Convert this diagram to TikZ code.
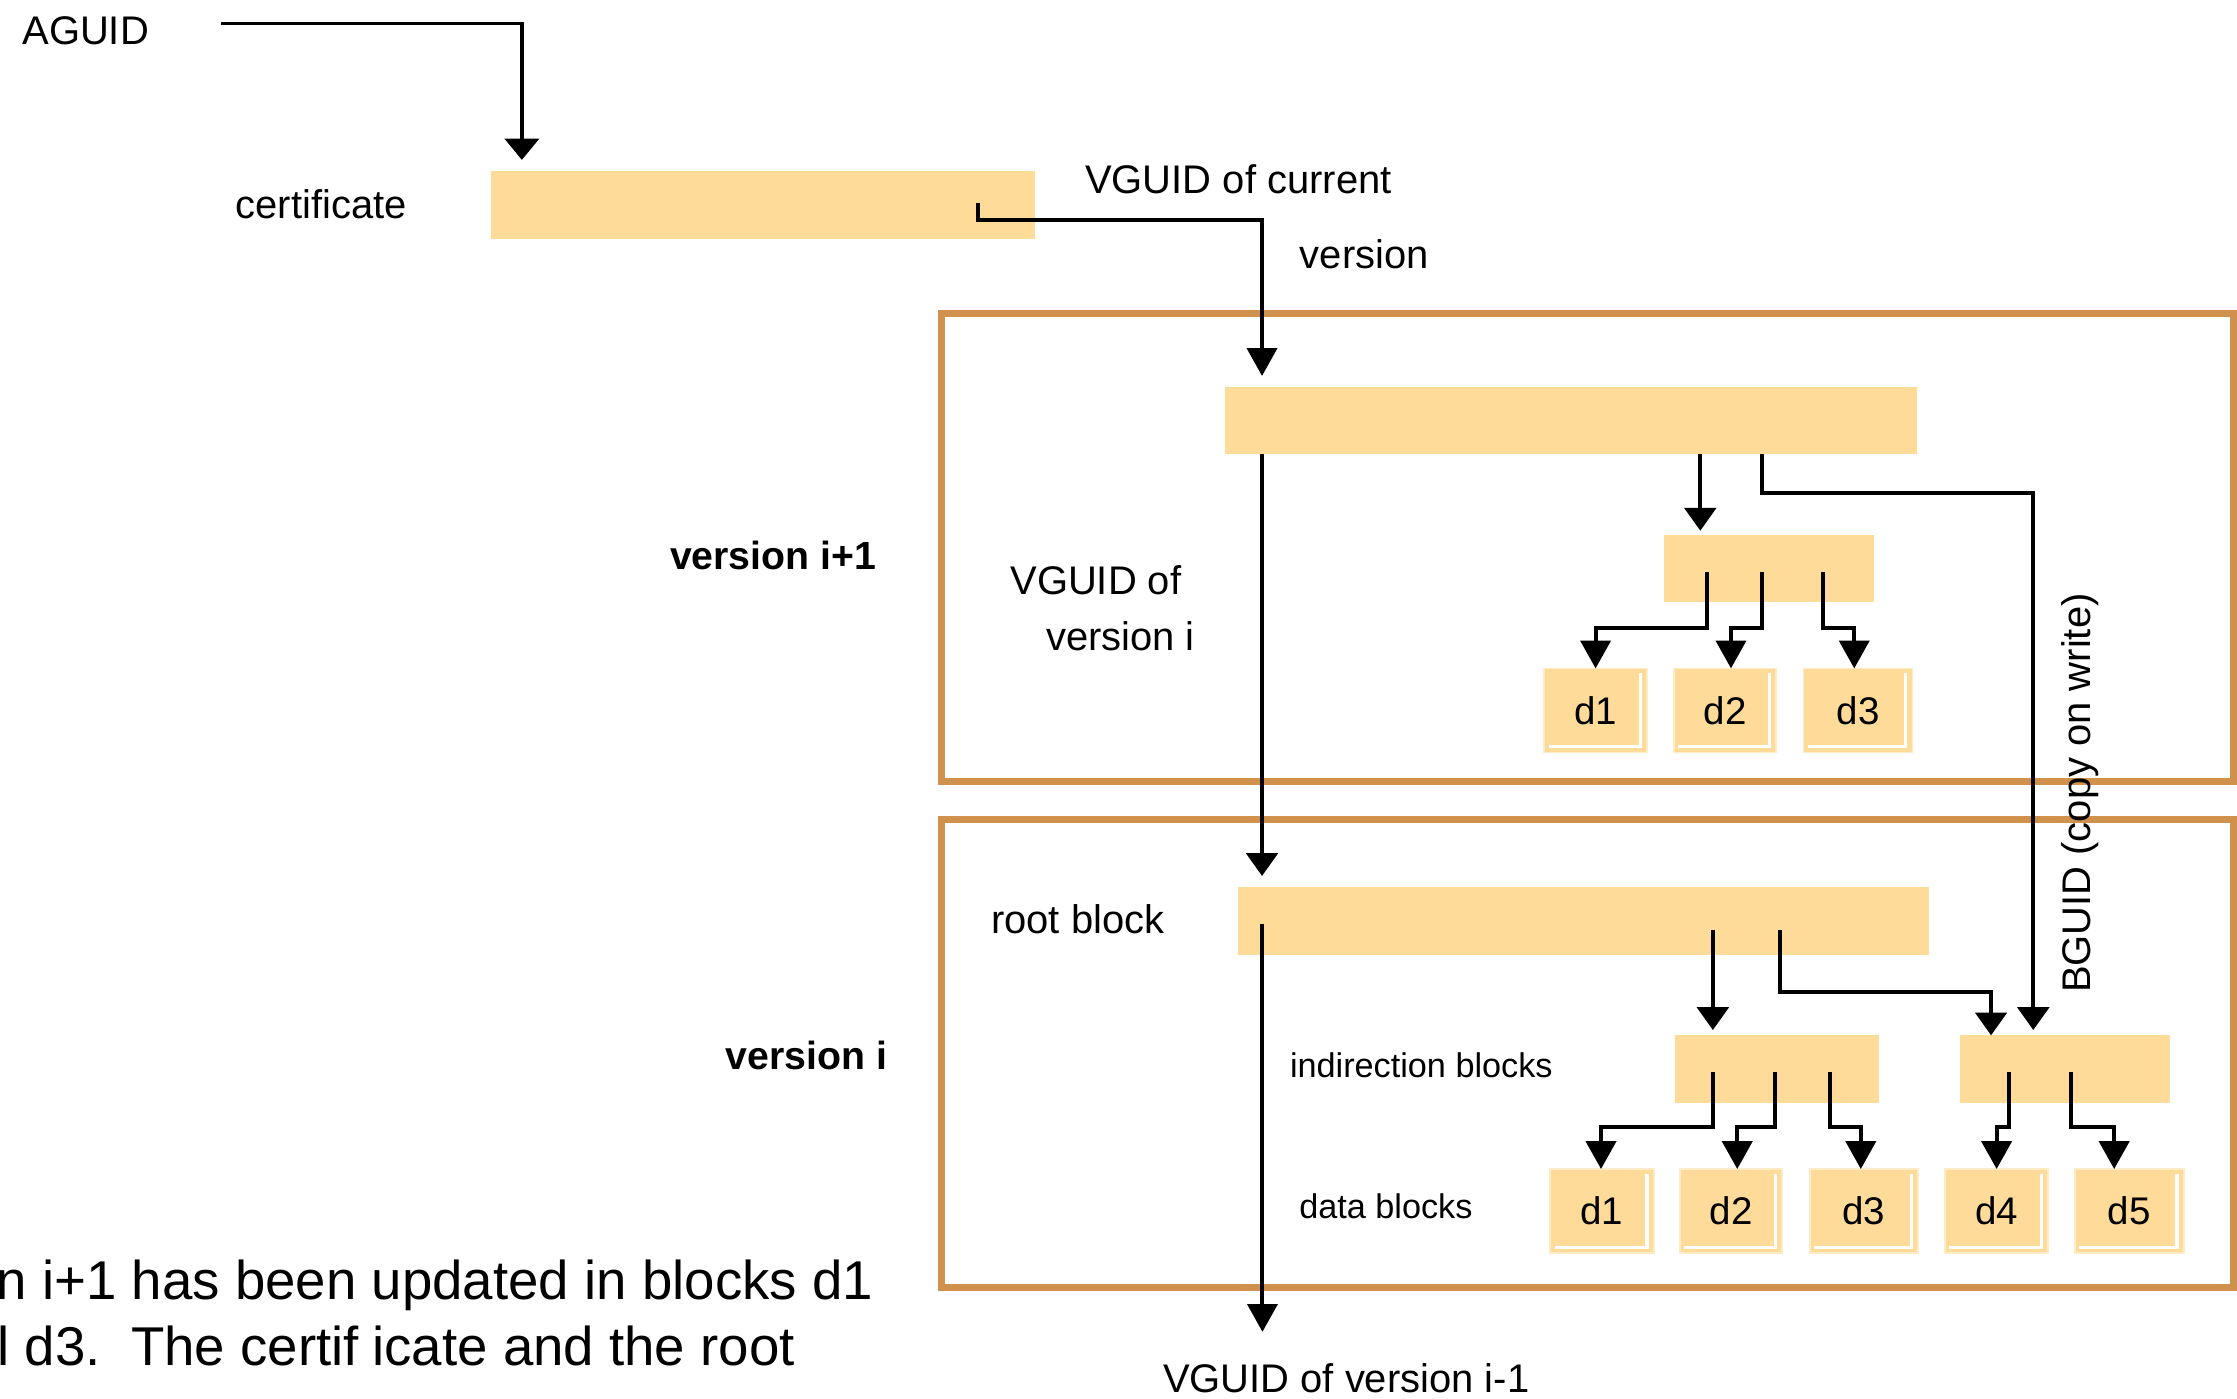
\documentclass[tikz,border=0pt]{standalone}
\usepackage{fontspec}
\setmainfont{Liberation Sans}
\usetikzlibrary{arrows.meta}
\definecolor{boxfill}{RGB}{254,219,153}
\definecolor{framecol}{RGB}{207,145,76}
\begin{document}
\begin{tikzpicture}[x=1pt,y=-1pt,
  conn/.style={line width=2.8pt, -{Triangle[length=19.5pt,width=21pt]}},
  connS/.style={line width=2.8pt, -{Triangle[length=16pt,width=22pt]}},
  connW/.style={line width=2.6pt, -{Triangle[length=15pt,width=24pt]}},
  bar/.style={fill=boxfill, inner sep=0pt, outer sep=0pt, anchor=north west},
  dblk/.style={bar, draw=boxfill!55!white, line width=1.2pt,
    font=\fontsize{27}{32}\selectfont,
    path picture={\draw[white, line width=2.2pt]
      ([xshift=3pt,yshift=4pt]path picture bounding box.south west) --
      ([xshift=-4.7pt,yshift=4pt]path picture bounding box.south east) --
      ([xshift=-4.7pt,yshift=-3.5pt]path picture bounding box.north east);}},
  frm/.style={draw=framecol, line width=5pt, inner sep=0pt, outer sep=0pt, anchor=north west},
  lbl/.style={inner sep=0pt, anchor=base west, font=\fontsize{28}{33}\selectfont},
  lblsm/.style={lbl, font=\fontsize{24}{29}\selectfont},
  lblb/.style={lbl, font=\bfseries\fontsize{27.5}{33}\selectfont},
  note/.style={lbl, font=\fontsize{38.3}{46}\selectfont}
]
\useasboundingbox (0,0) rectangle (1568,980);
\fill[white] (0,0) rectangle (1568,980);

% frames
\node[frm, minimum width=905.5pt, minimum height=328pt] (fr1) at (660,220) {};
\node[frm, minimum width=905.5pt, minimum height=328.2pt] (fr0) at (660,574.2) {};

% bars
\node[bar, minimum width=381pt, minimum height=47.4pt] (cert) at (344.2,119.9) {};
\node[bar, minimum width=485.1pt, minimum height=47pt] (root1) at (858.3,271.5) {};
\node[bar, minimum width=147.2pt, minimum height=47.2pt] (ind1) at (1166.1,375) {};
\node[bar, minimum width=483.9pt, minimum height=47.6pt] (root0) at (867.9,622) {};
\node[bar, minimum width=143pt, minimum height=47.5pt] (indA) at (1174.2,725.7) {};
\node[bar, minimum width=146.9pt, minimum height=47.5pt] (indB) at (1373.8,725.7) {};

% data blocks version i+1
\node[dblk, minimum width=72pt, minimum height=59pt] (v1d1) at (1082.4,468.5) {d1};
\node[dblk, minimum width=71.7pt, minimum height=59pt] (v1d2) at (1173.3,468.5) {d2};
\node[dblk, minimum width=76.4pt, minimum height=59pt] (v1d3) at (1264.2,468.5) {d3};
% data blocks version i
\node[dblk, minimum width=72.5pt, minimum height=59pt] (v0d1) at (1086.6,819.4) {d1};
\node[dblk, minimum width=71.8pt, minimum height=59pt] (v0d2) at (1177.5,819.4) {d2};
\node[dblk, minimum width=76pt, minimum height=59pt] (v0d3) at (1268.5,819.4) {d3};
\node[dblk, minimum width=72.2pt, minimum height=59pt] (v0d4) at (1363.3,819.4) {d4};
\node[dblk, minimum width=76.4pt, minimum height=59pt] (v0d5) at (1454.2,819.4) {d5};

% labels
\node[lbl] (aguid) at (15.5,31.1) {AGUID};
\node[lbl] (certl) at (165,153) {certificate};
\node[lbl] (vcur) at (760.5,135.5) {VGUID of current};
\node[lbl] (vcur2) at (911,188.1) {version};
\node[lblb] (vip1) at (469.5,399.5) {version i+1};
\node[lblb] (vi) at (508.5,749.5) {version i};
\node[lbl] (vgofa) at (708,417) {VGUID of};
\node[lbl] (vgofb) at (733,456) {version i};
\node[lbl] (rootl) at (694.5,654.2) {root block};
\node[lblsm] (indl) at (904,755.1) {indirection blocks};
\node[lblsm] (datal) at (910.5,854) {data blocks};
\node[lbl, rotate=90] (bguid) at (1465,696.2) {BGUID (copy on write)};
\node[lbl] (vgim1) at (815,975.7) {VGUID of version i-1};
\node[note] (n1) at (-2.5,911.2) {n i+1 has been updated in blocks d1};
\node[note] (n2) at (-2,956.8) {l d3.~~The certif\hspace{0.25em}icate and the root};

% start points inside blocks
\coordinate (ag) at (154.9,16.4);
\coordinate (cs) at (685.8,142);
\coordinate (r0s) at (884.9,647.6);
\coordinate (r0a) at (1200.6,652.2);
\coordinate (r0b) at (1248,652.2);
\coordinate (i1a) at (1196.2,401.2);
\coordinate (i1b) at (1235.3,401.2);
\coordinate (i1c) at (1278,401.2);
\coordinate (iAa) at (1200.6,751.6);
\coordinate (iAb) at (1244.1,751.6);
\coordinate (iAc) at (1282.6,751.6);
\coordinate (iBa) at (1408.1,751.6);
\coordinate (iBb) at (1451.6,751.6);

% connectors
\draw[connW, shorten >=7.8pt] (ag) -| (365.8,0 |- cert.north);
\draw[conn, shorten >=8pt] (cs) |- (884.6,154.2) -- (884.6,0 |- root1.north);
\draw[connS, shorten >=8pt] (884.6,0 |- root1.south) -- (884.6,0 |- root0.north);
\draw[conn, shorten >=21.7pt] (r0s) -- (r0s |- vgim1.north);
\draw[connS, shorten >=3pt] (1191.8,0 |- root1.south) -- (1191.8,0 |- ind1.north);
\draw[connS, shorten >=3.7pt] (1235.3,0 |- root1.south) |- (1425.2,345.5) -- (1425.2,0 |- indB.north);
\draw[connS, shorten >=3.7pt] (r0a) -- (r0a |- indA.north);
\draw[connS] (r0b) |- (1395.6,695.2) -- (1395.6,0 |- indB.north);

\draw[conn] (i1a) |- (1118.4,440) -- (1118.4,0 |- v1d1.north);
\draw[conn] (i1b) |- (1213.3,440) -- (1213.3,0 |- v1d2.north);
\draw[conn] (i1c) |- (1299.7,440) -- (1299.7,0 |- v1d3.north);

\draw[conn] (iAa) |- (1122.2,789.7) -- (1122.2,0 |- v0d1.north);
\draw[conn] (iAb) |- (1217.7,789.7) -- (1217.7,0 |- v0d2.north);
\draw[conn] (iAc) |- (1304.3,789.7) -- (1304.3,0 |- v0d3.north);
\draw[conn] (iBa) |- (1399.5,789.7) -- (1399.5,0 |- v0d4.north);
\draw[conn] (iBb) |- (1481.9,789.7) -- (1481.9,0 |- v0d5.north);
\end{tikzpicture}
\end{document}
